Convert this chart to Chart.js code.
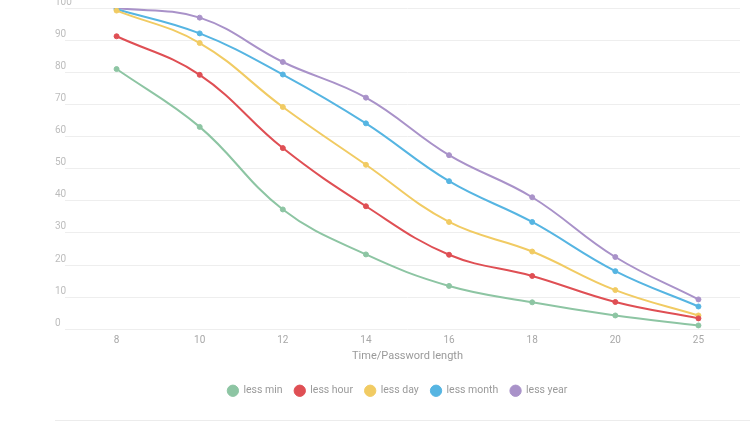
<!DOCTYPE html>
<html>
<head>
<meta charset="utf-8">
<script src="https://cdn.jsdelivr.net/npm/chart.js@4"></script>
<style>
  html, body { margin: 0; padding: 0; background: #fff; }
  #wrap { position: relative; width: 750px; height: 426px; overflow: hidden; }
  #c { position: absolute; left: 0; top: 0; }
  #sep { position: absolute; left: 55px; top: 420px; width: 695px; height: 0; border-top: 1px solid #ececec; }
</style>
</head>
<body>
<div id="wrap">
  <canvas id="c" width="750" height="410"></canvas>
  <div id="sep"></div>
</div>
<script>
const categories = ['8', '10', '12', '14', '16', '18', '20', '25'];
const lessMin   = [81, 63, 37.3, 23.3, 13.5, 8.4, 4.3, 1.2];
const lessHour  = [91.2, 79.2, 56.4, 38.3, 23.2, 16.6, 8.5, 3.4];
const lessDay   = [99.2, 89.1, 69.2, 51.2, 33.4, 24.2, 12.2, 4.3];
const lessMonth = [99.6, 92.1, 79.3, 64.1, 46.1, 33.4, 18.1, 7.1];
const lessYear  = [100, 97, 83.2, 72.1, 54.2, 41.1, 22.5, 9.3];
const seriesNames = ['less min', 'less hour', 'less day', 'less month', 'less year'];
const seriesColors = ['#8dc5a3', '#df4f54', '#f1cb63', '#56b5e2', '#a992c9'];
const yTicks = [0, 10, 20, 30, 40, 50, 60, 70, 80, 90, 100];
const xTitle = 'Time/Password length';

const allSeries = [lessMin, lessHour, lessDay, lessMonth, lessYear];
const datasets = allSeries.map((d, i) => ({
  label: seriesNames[i],
  data: d,
  borderColor: seriesColors[i],
  backgroundColor: seriesColors[i],
  pointBackgroundColor: seriesColors[i],
  pointBorderColor: seriesColors[i],
  borderWidth: 2,
  pointRadius: 2.5,
  pointBorderWidth: 1,
  tension: 0.4,
  fill: false
}));

Chart.defaults.font.family = 'Roboto, "Noto Sans", sans-serif';

new Chart(document.getElementById('c'), {
  type: 'line',
  data: { labels: categories, datasets },
  options: {
    responsive: false,
    animation: false,
    devicePixelRatio: 1,
    layout: { padding: { left: 55, right: 10, top: 8, bottom: 4 } },
    plugins: {
      legend: {
        position: 'bottom',
        labels: {
          usePointStyle: true,
          pointStyle: 'circle',
          boxWidth: 11,
          boxHeight: 8,
          padding: 12,
          color: '#9a9a9a',
          font: { size: 10.5 }
        }
      },
      tooltip: { enabled: false }
    },
    scales: {
      x: {
        offset: true,
        grid: { display: false, drawTicks: false },
        border: { display: false },
        ticks: { color: '#a8a8a8', font: { size: 10 }, padding: 5 },
        title: { display: true, text: xTitle, color: '#9a9a9a', font: { size: 11 }, padding: { top: -2, bottom: 11 } }
      },
      y: {
        min: 0,
        max: 100,
        afterBuildTicks: (s) => { s.ticks = yTicks.map(v => ({ value: v })); },
        afterFit: (s) => { s.width = 20; },
        grid: { color: '#eeeeee', lineWidth: 1, drawTicks: true, tickLength: 10 },
        border: { display: false },
        ticks: { color: '#bdbdbd', font: { size: 10 }, crossAlign: 'far', labelOffset: -6, padding: 0 }
      }
    }
  }
});
</script>
</body>
</html>
